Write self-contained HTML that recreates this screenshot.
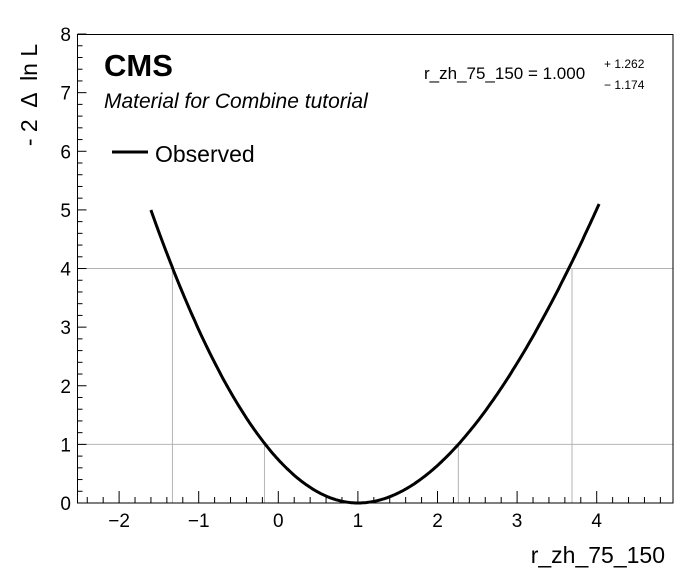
<!DOCTYPE html>
<html><head><meta charset="utf-8"><style>
body{margin:0;background:#fff;}
svg{display:block;font-family:"Liberation Sans",sans-serif;}
</style></head><body>
<svg id="s" width="696" height="572" viewBox="0 0 696 572" xmlns="http://www.w3.org/2000/svg">
<rect x="0" y="0" width="696" height="572" fill="#fff"/>
<g id="grid" stroke="#b4b4b4" stroke-width="1"></g>
<g id="ticks" stroke="#000" stroke-width="1"></g>
<rect x="77.5" y="34.5" width="595.5" height="468.5" fill="none" stroke="#000" stroke-width="1"/>
<path id="curve" fill="none" stroke="#000" stroke-width="3" stroke-linejoin="round"/>
<g font-size="19" text-anchor="middle" id="xl"></g>
<g font-size="19" text-anchor="end" id="yl"></g>
<text x="665" y="563" font-size="23" text-anchor="end">r_zh_75_150</text>
<text transform="translate(37,95) rotate(-90)" font-size="23" text-anchor="middle" xml:space="preserve">- 2  Δ  ln L</text>
<text x="104" y="76" font-size="31" font-weight="bold">CMS</text>
<text x="104" y="108" font-size="21" font-style="italic">Material for Combine tutorial</text>
<line x1="112" y1="152" x2="148" y2="152" stroke="#000" stroke-width="3"/>
<text x="155" y="162" font-size="23">Observed</text>
<text x="424" y="79" font-size="17">r_zh_75_150 = 1.000</text>
<text x="604" y="68" font-size="12">+ 1.262</text>
<text x="604" y="89" font-size="12">− 1.174</text>
</svg>
<script>
var X=v=>278.3+79.6*v, Y=v=>503-58.62*v, ns="http://www.w3.org/2000/svg";
function el(p,t,a){var e=document.createElementNS(ns,t);for(var k in a)e.setAttribute(k,a[k]);document.getElementById(p).appendChild(e);return e;}
[[1],[4]].forEach(function(a){el("grid","line",{x1:77.5,x2:673,y1:Y(a[0]),y2:Y(a[0])});});
[[-0.174,1],[2.262,1],[-1.33,4],[3.69,4]].forEach(function(a){el("grid","line",{x1:X(a[0]),x2:X(a[0]),y1:503,y2:Y(a[1])});});
for(var i=-12;i<=24;i++){var v=i*0.2,x=X(v);if(x<78||x>672)continue;var maj=i%5==0;
el("ticks","line",{x1:x,x2:x,y1:503,y2:503-(maj?12:6)});
if(maj){var t=el("xl","text",{x:x,y:527});t.textContent=(Math.round(v)<0?"−":"")+Math.abs(Math.round(v));}}
for(var i=0;i<=40;i++){var v=i*0.2,y=Y(v);var maj=i%5==0;
el("ticks","line",{x1:77.5,x2:77.5+(maj?9:5),y1:y,y2:y});
if(maj){var t=el("yl","text",{x:71,y:y+7});t.textContent=Math.round(v);}}
var pts=[];
for(var k=0;k<=300;k++){var x=-1.6+k*(4.03+1.6)/300,d=x-1,y;
if(d<0){y=Math.pow(d/1.163,2);}else{var s=1.262+0.045*(d-1.262);y=Math.pow(d/s,2);}
pts.push(X(x).toFixed(1)+","+Y(y).toFixed(1));}
document.getElementById("curve").setAttribute("d","M"+pts.join("L"));
</script>
</body></html>
